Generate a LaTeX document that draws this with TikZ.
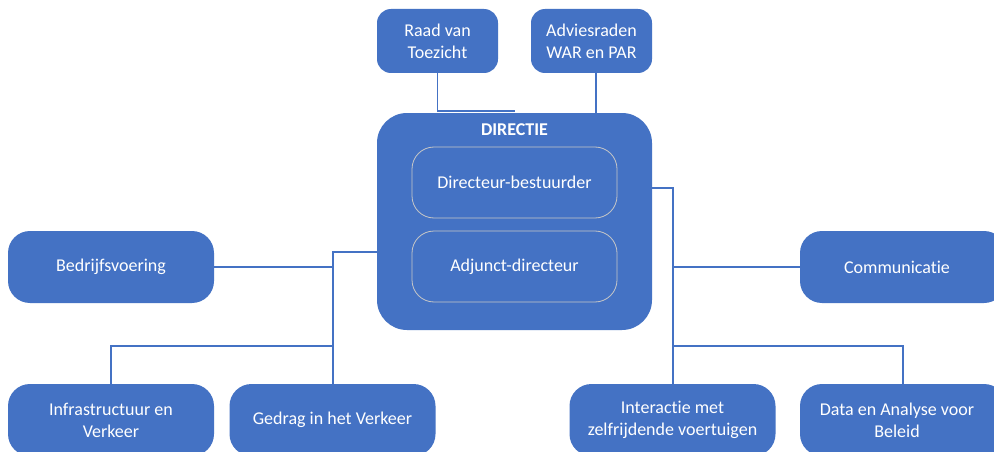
\documentclass[tikz,border=0pt]{standalone}
\usepackage{fontspec}
\setmainfont{Carlito}[Ligatures=NoCommon]
\definecolor{officeblue}{HTML}{4472C4}
\tikzset{
  unitbox/.style={rectangle, rounded corners=#1, fill=officeblue, text=white, align=center,
    inner sep=0pt, font=\fontsize{18}{22}\selectfont},
  topbox/.style={unitbox=14, minimum width=121, minimum height=64},
  sidebox/.style={unitbox=22, minimum width=206, minimum height=72},
  innerbox/.style={unitbox=22, draw=white!78!black, line width=0.8pt, minimum width=205, minimum height=71},
  link/.style={draw=officeblue, line width=1.8pt}
}

\begin{document}
\begin{tikzpicture}[x=1pt, y=-1pt]
		%%%%% START %%%%%
		
		\clip (0, 0) rectangle (994, 452);
		\fill[white] (0, 0) rectangle (994, 452);
		
		\coordinate (lhub) at (333, 252);
		\coordinate (lsplit) at (333, 346);
		\coordinate (rhub) at (673, 188);
		\coordinate (rsplit) at (673, 346);
		
		\node[topbox] (raad) at (437.5, 41) {Raad van\\Toezicht};
		\node[topbox] (advies) at (591.5, 41) {Adviesraden\\WAR en PAR};
		
		\node[unitbox=30, minimum width=275, minimum height=217] (directie) at (514.5, 221.5) {};
		\node[unitbox=0, fill=none, font=\fontsize{18}{22}\selectfont\bfseries] (dirlabel) at (514.5, 130) {DIRECTIE};
		\node[innerbox] (dirbest) at (514.5, 182.5) {Directeur-bestuurder};
		\node[innerbox] (adjunct) at (514.5, 266.5) {Adjunct-directeur};
		
		\node[sidebox] (bedrijf) at (111, 267) {Bedrijfsvoering};
		\node[sidebox] (comm) at (903, 267) {\hspace*{-12pt}Communicatie};
		
		\node[sidebox] (infra) at (111, 420) {Infrastructuur en\\Verkeer};
		\node[sidebox] (gedrag) at (332.5, 420) {Gedrag in het Verkeer};
		\node[sidebox] (inter) at (672.5, 420) {Interactie met\\zelfrijdende voertuigen};
		\node[sidebox] (data) at (903, 420) {\hspace*{-12pt}Data en Analyse voor\\\hspace*{-12pt}Beleid};
		
		% top
		\draw[link] (raad.south) |- ([yshift=2pt]directie.north);
		\draw[link] ([xshift=4.5pt]advies.south) -- ([xshift=4.5pt]advies.south |- directie.north);
		
		% left
		\draw[link] (directie.west |- lhub) -- (lhub) -- (lhub |- gedrag.north);
		\draw[link] (bedrijf.east) -- (bedrijf.east -| lhub);
		\draw[link] (lsplit) -| (infra.north);
		
		% right
		\draw[link] (directie.east |- rhub) -- (rhub) -- (rhub |- inter.north);
		\draw[link] (rhub |- comm.west) -- (comm.west);
		\draw[link] (rsplit) -| (data.north);
		
		%%%%% END %%%%%
\end{tikzpicture}
\end{document}
